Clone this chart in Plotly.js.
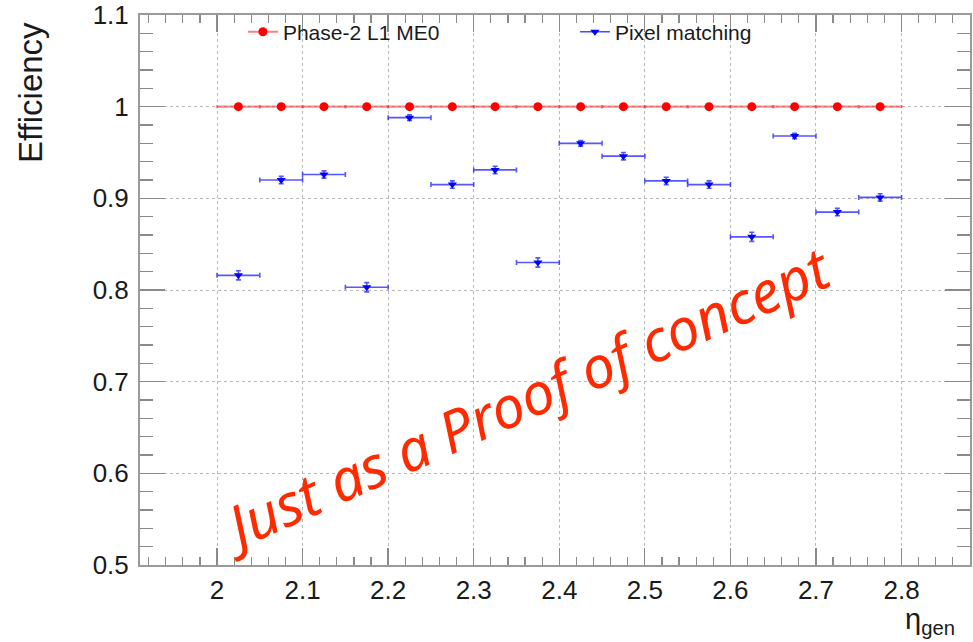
<!DOCTYPE html>
<html>
<head>
<meta charset="utf-8">
<script src="https://cdn.plot.ly/plotly-3.0.1.min.js"></script>
<style>
  html, body { margin: 0; padding: 0; background: #fff; }
  #chart { width: 973px; height: 642px; }
</style>
</head>
<body>
<div id="chart"></div>
<script>
// Bin centres in eta_gen (bin width 0.05)
const etaBins = [2.025, 2.075, 2.125, 2.175, 2.225, 2.275, 2.325, 2.375,
                 2.425, 2.475, 2.525, 2.575, 2.625, 2.675, 2.725, 2.775];
const binHalfWidth = [0.025, 0.025, 0.025, 0.025, 0.025, 0.025, 0.025, 0.025,
                      0.025, 0.025, 0.025, 0.025, 0.025, 0.025, 0.025, 0.025];

// Phase-2 L1 ME0 efficiency
const effME0 = [1, 1, 1, 1, 1, 1, 1, 1, 1, 1, 1, 1, 1, 1, 1, 1];
const errME0 = [0, 0, 0, 0, 0, 0, 0, 0, 0, 0, 0, 0, 0, 0, 0, 0];

// Pixel matching efficiency
const effPixel = [0.816, 0.920, 0.926, 0.803, 0.988, 0.915, 0.931, 0.830,
                  0.960, 0.946, 0.919, 0.915, 0.858, 0.968, 0.885, 0.901];
const errPixel = [0.005, 0.004, 0.004, 0.005, 0.003, 0.004, 0.004, 0.005,
                  0.003, 0.004, 0.004, 0.004, 0.005, 0.003, 0.004, 0.004];

const seriesNames = ['Phase-2 L1 ME0', 'Pixel matching'];
const xTickVals = [2, 2.1, 2.2, 2.3, 2.4, 2.5, 2.6, 2.7, 2.8];
const xTickText = ['2', '2.1', '2.2', '2.3', '2.4', '2.5', '2.6', '2.7', '2.8'];
const yTickVals = [0.5, 0.6, 0.7, 0.8, 0.9, 1, 1.1];
const yTickText = ['0.5', '0.6', '0.7', '0.8', '0.9', '1', '1.1'];

const RED = 'rgb(255,0,0)';
const BLUE = 'rgb(0,0,255)';
const FONT = 'Liberation Sans, Arial, Helvetica, sans-serif';

const traces = [
  {
    type: 'scatter', mode: 'markers', x: etaBins, y: effME0, showlegend: false,
    marker: { symbol: 'circle', size: 9, color: RED },
    error_x: { type: 'data', array: binHalfWidth, color: 'rgba(255,40,40,0.55)', thickness: 2.2, width: 1.5 },
    error_y: { type: 'data', array: errME0, visible: false }
  },
  {
    type: 'scatter', mode: 'markers', x: etaBins, y: effPixel, showlegend: false,
    marker: { symbol: 'triangle-down', size: 8, color: BLUE },
    error_x: { type: 'data', array: binHalfWidth, color: 'rgba(30,30,255,0.75)', thickness: 1.6, width: 2.5 },
    error_y: { type: 'data', array: errPixel, color: 'rgba(30,30,255,0.75)', thickness: 1.6, width: 2.5 }
  },
  // legend entries (line + marker, as in the ROOT-style key)
  {
    type: 'scatter', mode: 'lines+markers', x: [null], y: [null], name: seriesNames[0],
    legend: 'legend',
    line: { color: 'rgba(255,40,40,0.6)', width: 2 },
    marker: { symbol: 'circle', size: 9, color: RED }
  },
  {
    type: 'scatter', mode: 'lines+markers', x: [null], y: [null], name: seriesNames[1],
    legend: 'legend2',
    line: { color: 'rgba(30,30,255,0.8)', width: 1.6 },
    marker: { symbol: 'triangle-down', size: 8, color: BLUE }
  }
];

const axisCommon = {
  showline: true, linecolor: '#9a9a9a', linewidth: 2, mirror: 'allticks',
  ticks: 'inside', tickcolor: '#8a8a8a', tickwidth: 1.3,
  showgrid: true, gridcolor: '#b8b8b8', gridwidth: 1, griddash: 'dot',
  zeroline: false,
  tickfont: { family: FONT, size: 26, color: '#1a1a1a' }
};

const layout = {
  width: 973, height: 642,
  margin: { l: 140, r: 3, t: 15, b: 77 },
  paper_bgcolor: '#ffffff', plot_bgcolor: '#ffffff',
  xaxis: Object.assign({}, axisCommon, {
    range: [1.91, 2.88],
    tickmode: 'array', tickvals: xTickVals, ticktext: xTickText,
    ticklen: 17, ticklabelstandoff: 1,
    minor: { dtick: 0.02, tick0: 2, ticks: 'inside', ticklen: 8, tickcolor: '#8a8a8a', tickwidth: 1.2, showgrid: false }
  }),
  yaxis: Object.assign({}, axisCommon, {
    range: [0.5, 1.1],
    tickmode: 'array', tickvals: yTickVals, ticktext: yTickText,
    ticklen: 25, ticklabelstandoff: 4,
    minor: { dtick: 0.02, tick0: 0.5, ticks: 'inside', ticklen: 13, tickcolor: '#8a8a8a', tickwidth: 1.2, showgrid: false }
  }),
  legend: {
    x: 0.124, y: 0.969, xanchor: 'left', yanchor: 'middle',
    bgcolor: 'rgba(0,0,0,0)', borderwidth: 0,
    font: { family: FONT, size: 21, color: '#1a1a1a' }
  },
  legend2: {
    x: 0.524, y: 0.969, xanchor: 'left', yanchor: 'middle',
    bgcolor: 'rgba(0,0,0,0)', borderwidth: 0,
    font: { family: FONT, size: 21, color: '#1a1a1a' }
  },
  annotations: [
    {
      text: 'Efficiency', xref: 'paper', yref: 'paper',
      x: -0.1325, y: 0.99, xanchor: 'center', yanchor: 'top', textangle: -90,
      showarrow: false, font: { family: FONT, size: 33, color: '#1a1a1a' }
    },
    {
      text: 'η<sub>gen</sub>', xref: 'paper', yref: 'paper',
      x: 0.984, y: -0.066, xanchor: 'right', yanchor: 'top',
      showarrow: false, font: { family: FONT, size: 29, color: '#1a1a1a' }
    },
    {
      text: 'Just as a Proof of concept', xref: 'paper', yref: 'paper',
      x: 0.463, y: 0.305, xanchor: 'center', yanchor: 'middle', textangle: -24,
      showarrow: false,
      font: { family: 'Noto Sans, Open Sans, sans-serif', style: 'italic', size: 58, color: '#ff2a00' }
    }
  ]
};

Plotly.newPlot('chart', traces, layout, { staticPlot: true, displayModeBar: false });
</script>
</body>
</html>
